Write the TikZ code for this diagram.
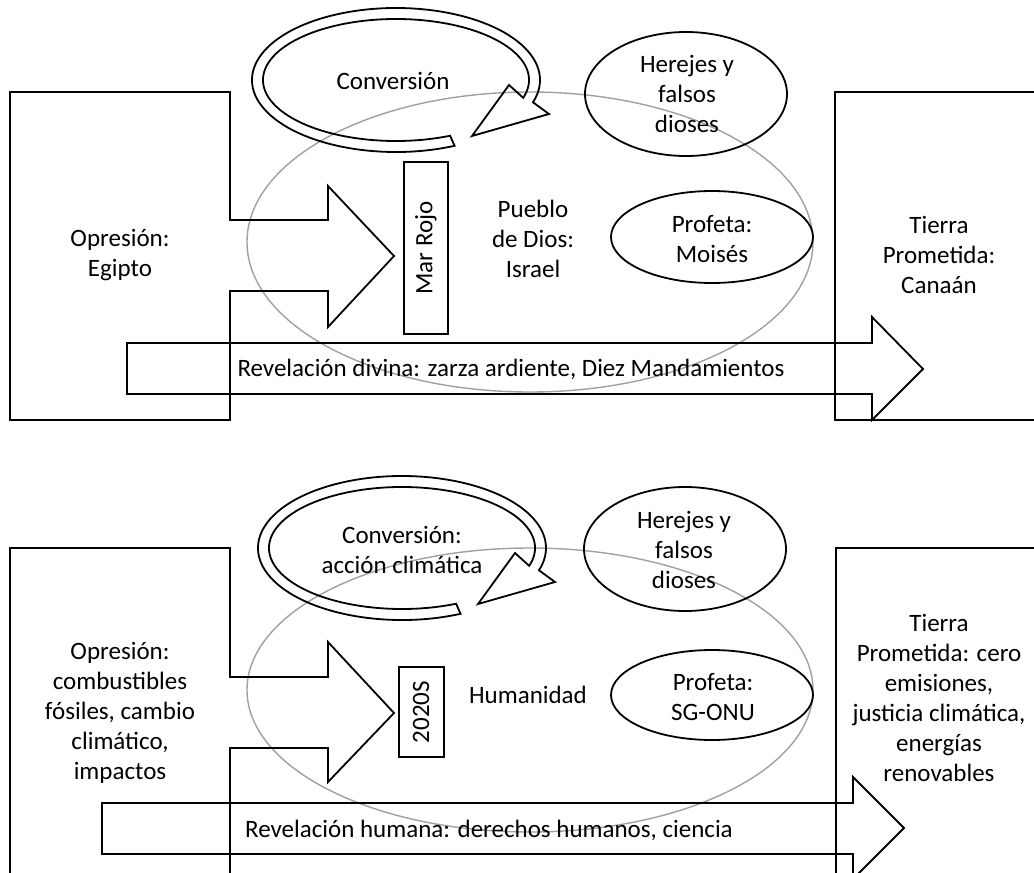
\documentclass[tikz,border=0pt]{standalone}
\usepackage{fontspec}
\setmainfont{Carlito}
\definecolor{ringgray}{RGB}{160,160,160}
\begin{document}
\begin{tikzpicture}[x=0.5pt,y=-0.5pt,line width=0.9pt,
	txt/.style={align=center,inner sep=0pt,font=\fontsize{12.5}{15}\selectfont},
	ring/.style={draw=ringgray,line width=0.7pt}]
	\useasboundingbox (0,0) rectangle (1034,873);
	\clip (0,0) rectangle (1034,873);
	% pueblo / humanidad
	\draw[ring] (530,242) ellipse [x radius=283,y radius=150];
	\draw[ring] (530,690) ellipse [x radius=283,y radius=142];
	% opresion con flecha
	\draw (10,92)--(230,92)--(230,220)--(328,220)--(328,186)--(394,256)--(328,327)--(328,291)--(230,291)--(230,420)--(10,420)--cycle;
	\draw (10,890)--(10,548)--(230,548)--(230,677)--(328,677)--(328,642)--(394,713)--(328,782)--(328,748)--(230,748)--(230,890);
	% tierra prometida
	\draw (1050,92)--(835,92)--(835,420)--(1050,420);
	\draw (1050,548)--(836,548)--(836,890);
	% revelacion
	\draw (127,343)--(872,343)--(872,317)--(923,369)--(872,420)--(872,394)--(127,394)--cycle;
	\draw (102,803)--(853,803)--(853,777)--(904,828)--(853,879)--(853,854)--(102,854)--cycle;
	% conversion
	\foreach \cx/\cy in {396/80,402/548}{
		\begin{scope}[shift={(\cx,\cy)}]
			\draw (66:144 and 72) arc[start angle=66,end angle=378,x radius=144,y radius=72]
				--(153,34)--(76,56)--(113,5)--(377:133 and 61)
				arc[start angle=377,end angle=66,x radius=133,y radius=61]--cycle;
		\end{scope}
	}
	% herejes, profeta
	\foreach \x/\y/\ry in {686/94/62,685/549/62,712/237/46,712/695/45}
		\draw (\x,\y) ellipse [x radius=101,y radius=\ry];
	% mar rojo, 2020S
	\draw (404,162) rectangle (448,334);
	\draw (399,667) rectangle (444,757);
	% textos
	\node[txt] (conv1) at (393,81) {Conversión};
	\node[txt] (here1) at (687,94) {Herejes y\\falsos\\dioses};
	\node[txt] (prof1) at (712,239) {Profeta:\\Moisés};
	\node[txt] (pueb) at (533,239) {Pueblo\\de Dios:\\Israel};
	\node[txt,rotate=90] (mar) at (426,248) {Mar Rojo};
	\node[txt] (opr1) at (120,255) {Opresión:\\Egipto};
	\node[txt] (tier1) at (939,255) {Tierra\\Prometida:\\Canaán};
	\node[txt] (rev1) at (511,369) {Revelación divina: zarza ardiente, Diez Mandamientos};
	\node[txt] (conv2) at (402,550) {Conversión:\\acción climática};
	\node[txt] (here2) at (684,550) {Herejes y\\falsos\\dioses};
	\node[txt] (prof2) at (713,697) {Profeta:\\SG-ONU};
	\node[txt] (hum) at (528,695) {Humanidad};
	\node[txt,rotate=90] (anio) at (421,712) {2020S};
	\node[txt] (opr2) at (120,713) {Opresión:\\combustibles\\fósiles, cambio\\climático,\\impactos};
	\node[txt] (tier2) at (939,698) {Tierra\\Prometida: cero\\emisiones,\\justicia climática,\\energías\\renovables};
	\node[txt] (rev2) at (489,830) {Revelación humana: derechos humanos, ciencia};
\end{tikzpicture}
\end{document}
